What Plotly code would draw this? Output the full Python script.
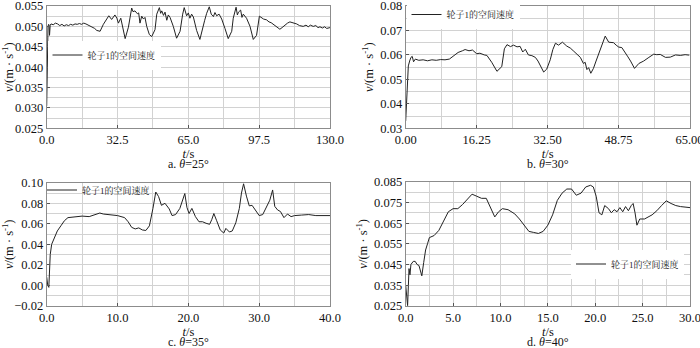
import plotly.graph_objects as go

# ---------------- data ----------------
a_t = [0, 0.3, 0.6, 0.9, 1.1, 1.3, 1.6, 2, 3, 4,
       5, 6, 7, 8, 9, 10, 11, 12, 13, 14,
       15, 16, 17, 18, 19, 20, 21, 22, 23, 24.5,
       26, 27.5, 28.5, 29.8, 31.3, 32.2, 32.9, 34, 35.2, 36,
       37.5, 39, 39.6, 40.5, 41.6, 42.2, 42.8, 43.6, 44.4, 45.1,
       45.9, 47.1, 48.2, 49.7, 50.5, 51.7, 52.3, 52.8, 53.6, 54.3,
       55.1, 55.8, 56.6, 57.3, 58.1, 59.6, 61.2, 62.4, 63.1, 64.2,
       65, 65.7, 66.5, 67.3, 68.8, 70.3, 71.6, 72.5, 73.4, 74.6,
       75.5, 76.5, 77.2, 78, 79.1, 80.3, 81.8, 83.3, 84.9, 85.6,
       86.9, 87.5, 88, 89, 89.6, 90.2, 91.7, 93.3, 94.8, 96.3,
       97.6, 98.6, 99.5, 100.9, 102, 103, 104, 105, 106, 107,
       108, 109.3, 110.5, 111.6, 113, 114.7, 116, 117.7, 119, 120,
       121, 122.3, 123.5, 124.5, 125.4, 126.5, 127.5, 128.5, 130]
a_v = [0.0305, 0.0470, 0.0500, 0.0505, 0.0502, 0.0478, 0.0503, 0.0506, 0.0504, 0.0508,
       0.0506, 0.0502, 0.0505, 0.0501, 0.0504, 0.0502, 0.0505, 0.0503, 0.0506, 0.0505,
       0.0507, 0.0505, 0.0508, 0.0506, 0.0503, 0.0502, 0.0498, 0.0495, 0.0490, 0.0488,
       0.0505, 0.0518, 0.0526, 0.0517, 0.0528, 0.0520, 0.0508, 0.0520, 0.0492, 0.0470,
       0.0498, 0.0545, 0.0536, 0.0538, 0.0531, 0.0533, 0.0508, 0.0525, 0.0518, 0.0522,
       0.0500, 0.0480, 0.0475, 0.0492, 0.0530, 0.0546, 0.0532, 0.0538, 0.0527, 0.0535,
       0.0515, 0.0528, 0.0522, 0.0512, 0.0500, 0.0471, 0.0488, 0.0530, 0.0546, 0.0526,
       0.0533, 0.0520, 0.0530, 0.0523, 0.0490, 0.0468, 0.0500, 0.0515, 0.0532, 0.0548,
       0.0530, 0.0524, 0.0534, 0.0526, 0.0530, 0.0518, 0.0495, 0.0470, 0.0488, 0.0520,
       0.0547, 0.0528, 0.0535, 0.0540, 0.0522, 0.0530, 0.0520, 0.0500, 0.0468, 0.0478,
       0.0525, 0.0522, 0.0518, 0.0516, 0.0511, 0.0509, 0.0505, 0.0500, 0.0496, 0.0493,
       0.0497, 0.0503, 0.0508, 0.0511, 0.0509, 0.0506, 0.0502, 0.0500, 0.0503, 0.0499,
       0.0503, 0.0500, 0.0502, 0.0497, 0.0499, 0.0496, 0.0499, 0.0495, 0.0497]

b_t = [0, 0.2, 0.4, 0.6, 0.9, 1.2, 1.5, 1.8, 2.2, 3,
       4, 5, 6, 7, 8, 9, 10, 11, 12, 13,
       13.6, 14.5, 15.3, 16.25, 17, 18, 18.6, 19.7, 20.3, 20.9,
       22, 22.6, 23.2, 24, 24.7, 25.5, 26.2, 26.8, 27.4, 28.1,
       28.9, 29.7, 30.3, 30.8, 31.6, 32.3, 33.1, 33.7, 34.3, 35,
       35.9, 36.9, 37.7, 38.5, 39.3, 40, 40.7, 41.1, 41.5, 41.9,
       42.4, 43, 43.6, 44.2, 45.2, 45.7, 46.5, 47.6, 48.2, 48.8,
       49.5, 50.3, 50.9, 51.5, 52.4, 53.4, 54.5, 55.7, 56.8, 57.5,
       58.3, 59.5, 60.6, 61.8, 62.9, 64, 65]
b_v = [0.0330, 0.0420, 0.0500, 0.0555, 0.0575, 0.0590, 0.0594, 0.0572, 0.0583, 0.0578,
       0.0580, 0.0576, 0.0580, 0.0578, 0.0581, 0.0580, 0.0583, 0.0596, 0.0610, 0.0617,
       0.0622, 0.0617, 0.0620, 0.0605, 0.0607, 0.0600, 0.0598, 0.0570, 0.0548, 0.0533,
       0.0552, 0.0625, 0.0642, 0.0634, 0.0640, 0.0633, 0.0635, 0.0612, 0.0623, 0.0600,
       0.0597, 0.0590, 0.0575, 0.0558, 0.0530, 0.0542, 0.0580, 0.0622, 0.0648, 0.0640,
       0.0652, 0.0636, 0.0628, 0.0615, 0.0600, 0.0590, 0.0565, 0.0570, 0.0540, 0.0548,
       0.0525, 0.0545, 0.0575, 0.0605, 0.0655, 0.0677, 0.0652, 0.0650, 0.0640, 0.0632,
       0.0630, 0.0605, 0.0592, 0.0575, 0.0545, 0.0565, 0.0575, 0.0590, 0.0603, 0.0601,
       0.0602, 0.0590, 0.0591, 0.0600, 0.0598, 0.0601, 0.0599]

c_t = [0, 0.15, 0.3, 0.5, 0.7, 1, 1.5, 2, 2.5, 3,
       4, 5, 6, 6.5, 7, 7.5, 8, 9, 10, 11,
       11.5, 12, 12.5, 13, 13.5, 14, 14.5, 15, 15.4, 15.8,
       16.2, 16.7, 17.3, 17.7, 18.2, 18.8, 19.2, 19.5, 19.8, 20.1,
       20.5, 21, 21.5, 22, 22.5, 23, 23.3, 23.6, 24, 24.5,
       25, 25.3, 25.8, 26.2, 26.7, 27.2, 27.5, 27.8, 28.2, 28.6,
       29, 29.5, 30, 30.5, 31, 31.5, 31.9, 32.2, 32.6, 33,
       33.5, 34, 34.5, 35, 36, 37, 38, 39, 40]
c_v = [0.008, 0.000, -0.002, 0.030, 0.040, 0.045, 0.053, 0.058, 0.063, 0.066,
       0.067, 0.0675, 0.067, 0.068, 0.0695, 0.0705, 0.0695, 0.069, 0.068, 0.066,
       0.062, 0.0565, 0.055, 0.056, 0.054, 0.0535, 0.058, 0.075, 0.091, 0.0865,
       0.078, 0.080, 0.0745, 0.068, 0.069, 0.075, 0.083, 0.0895, 0.076, 0.070,
       0.075, 0.067, 0.062, 0.062, 0.0605, 0.0595, 0.064, 0.070, 0.063, 0.054,
       0.051, 0.0555, 0.052, 0.053, 0.061, 0.075, 0.090, 0.099, 0.087, 0.0775,
       0.078, 0.0735, 0.068, 0.069, 0.076, 0.083, 0.093, 0.077, 0.0735, 0.072,
       0.066, 0.0695, 0.067, 0.068, 0.0685, 0.069, 0.068, 0.0682, 0.068]

d_t = [0, 0.2, 0.35, 0.45, 0.55, 0.8, 1.0, 1.2, 1.4, 1.5,
       1.7, 1.9, 2.1, 2.3, 2.5, 3, 3.5, 4, 4.5, 5,
       5.5, 6, 6.5, 7, 7.5, 8, 8.5, 9, 9.4, 9.8,
       10.2, 10.8, 11.5, 12, 12.5, 13, 13.5, 14, 14.5, 15,
       15.5, 16, 16.5, 17, 17.5, 18, 18.5, 19, 19.5, 19.8,
       20.1, 20.4, 20.7, 21, 21.4, 21.7, 22, 22.3, 22.6, 22.9,
       23.2, 23.5, 23.8, 24, 24.2, 24.4, 24.7, 25.2, 26, 26.5,
       27, 27.5, 28, 28.5, 29, 30]
d_v = [0.035, 0.025, 0.043, 0.040, 0.045, 0.0465, 0.0465, 0.045, 0.0445, 0.043,
       0.0395, 0.046, 0.052, 0.055, 0.058, 0.059, 0.0615, 0.066, 0.0705, 0.072,
       0.072, 0.074, 0.0765, 0.079, 0.078, 0.077, 0.077, 0.072, 0.068, 0.0705,
       0.072, 0.0715, 0.0695, 0.067, 0.064, 0.061, 0.0605, 0.060, 0.061, 0.064,
       0.069, 0.076, 0.0795, 0.0815, 0.0815, 0.0785, 0.0795, 0.0825, 0.0833, 0.0825,
       0.078, 0.070, 0.069, 0.0735, 0.072, 0.070, 0.0715, 0.0705, 0.0725, 0.0705,
       0.073, 0.071, 0.0735, 0.0745, 0.070, 0.064, 0.067, 0.067, 0.069, 0.071,
       0.0735, 0.0758, 0.0745, 0.0735, 0.073, 0.0725]

series_name = "轮子1的空间速度"
captions = ["a. <i>θ</i>=25°", "b. <i>θ</i>=30°", "c. <i>θ</i>=35°", "d. <i>θ</i>=40°"]
x_title = "<i>t</i>/s"
y_title = "<i>v</i>/(m · s<sup>-1</sup>)"

# ---------------- figure ----------------
W, H = 700, 348
FONT = "Liberation Serif, Times New Roman, Noto Serif CJK SC, Noto Sans CJK SC, serif"
GRID = "#d2d2d2"
FRAME = "#8c8c8c"
LINE = "#222222"

def px_x(p):
    return p / W

def px_y(p):
    return 1 - p / H

panels = [
    dict(t=a_t, v=a_v, xr=[0, 130], xd=32.5, xm=16.25, xf=".1f",
         yr=[0.025, 0.055], y0=0.025, yd=0.005, ym=0.0025, yf=".3f",
         dx=[46.7, 330.0], dy=[5.0, 127.7], leg=(47.5, 55), legbg="white"),
    dict(t=b_t, v=b_v, xr=[0, 65], xd=16.25, xm=8.125, xf=".2f",
         yr=[0.03, 0.08], y0=0.03, yd=0.01, ym=0.005, yf=".2f",
         dx=[405.7, 689.5], dy=[5.0, 127.7], leg=(406.5, 14), legbg="white"),
    dict(t=c_t, v=c_v, xr=[0, 40], xd=10, xm=5, xf=".1f",
         yr=[-0.02, 0.10], y0=-0.02, yd=0.02, ym=0.01, yf=".2f",
         dx=[46.7, 330.0], dy=[182.3, 305.7], leg=(42, 190), legbg="rgba(255,255,255,0)"),
    dict(t=d_t, v=d_v, xr=[0, 30], xd=5, xm=2.5, xf=".1f",
         yr=[0.025, 0.085], y0=0.025, yd=0.01, ym=0.005, yf=".3f",
         dx=[405.7, 690.0], dy=[181.3, 305.7], leg=(571, 264), legbg="white"),
]

fig = go.Figure()
layout = dict(
    template="none",
    width=W, height=H,
    margin=dict(l=0, r=0, t=0, b=0, pad=0),
    paper_bgcolor="white", plot_bgcolor="white",
    font=dict(family=FONT, size=12.5, color="#111"),
    annotations=[],
)

for i, p in enumerate(panels):
    k = "" if i == 0 else str(i + 1)
    legname = "legend" + k
    fig.add_trace(go.Scatter(
        x=p["t"], y=p["v"], mode="lines", name=series_name,
        line=dict(color=LINE, width=1),
        xaxis="x" + k, yaxis="y" + k, legend=legname, showlegend=True,
    ))
    layout["xaxis" + k] = dict(
        domain=[px_x(p["dx"][0]), px_x(p["dx"][1])], anchor="y" + k,
        range=p["xr"], tick0=0, dtick=p["xd"], tickformat=p["xf"],
        showgrid=True, gridcolor=GRID, gridwidth=1,
        minor=dict(dtick=p["xm"], showgrid=True, gridcolor=GRID, gridwidth=1),
        showline=True, linecolor=FRAME, linewidth=1, mirror=True,
        ticks="inside", ticklen=3, tickcolor="#555",
        zeroline=False, automargin=False, ticklabeloverflow="allow",
        title=dict(text=x_title, standoff=0, font=dict(size=12.5)),
    )
    layout["yaxis" + k] = dict(
        domain=[px_y(p["dy"][1]), px_y(p["dy"][0])], anchor="x" + k,
        range=p["yr"], tick0=p["y0"], dtick=p["yd"], tickformat=p["yf"],
        showgrid=True, gridcolor=GRID, gridwidth=1,
        minor=dict(dtick=p["ym"], tick0=p["y0"], showgrid=True, gridcolor=GRID, gridwidth=1),
        showline=True, linecolor=FRAME, linewidth=1, mirror=True,
        ticks="inside", ticklen=3, tickcolor="#555",
        zeroline=False, automargin=False, ticklabeloverflow="allow",
        title=dict(text=y_title, standoff=3, font=dict(size=12.5)),
    )
    layout[legname] = dict(
        x=px_x(p["leg"][0]), y=px_y(p["leg"][1]), xanchor="left", yanchor="middle",
        xref="paper", yref="paper",
        bgcolor=p["legbg"], borderwidth=0,
        font=dict(family="Liberation Serif, Noto Serif CJK SC, Noto Sans CJK SC", size=9, color="#222"),
        itemwidth=30, tracegroupgap=0,
    )
    cx = (p["dx"][0] + p["dx"][1]) / 2
    cap_y = p["dy"][1] + 36
    layout["annotations"].append(dict(
        text=captions[i], x=px_x(cx), y=px_y(cap_y), xref="paper", yref="paper",
        showarrow=False, xanchor="center", yanchor="middle",
        font=dict(family=FONT, size=12, color="#111"),
    ))

fig.update_layout(**layout)
fig.write_html("out.html", config={"displayModeBar": False},
               post_script="document.body.style.margin='0';")
